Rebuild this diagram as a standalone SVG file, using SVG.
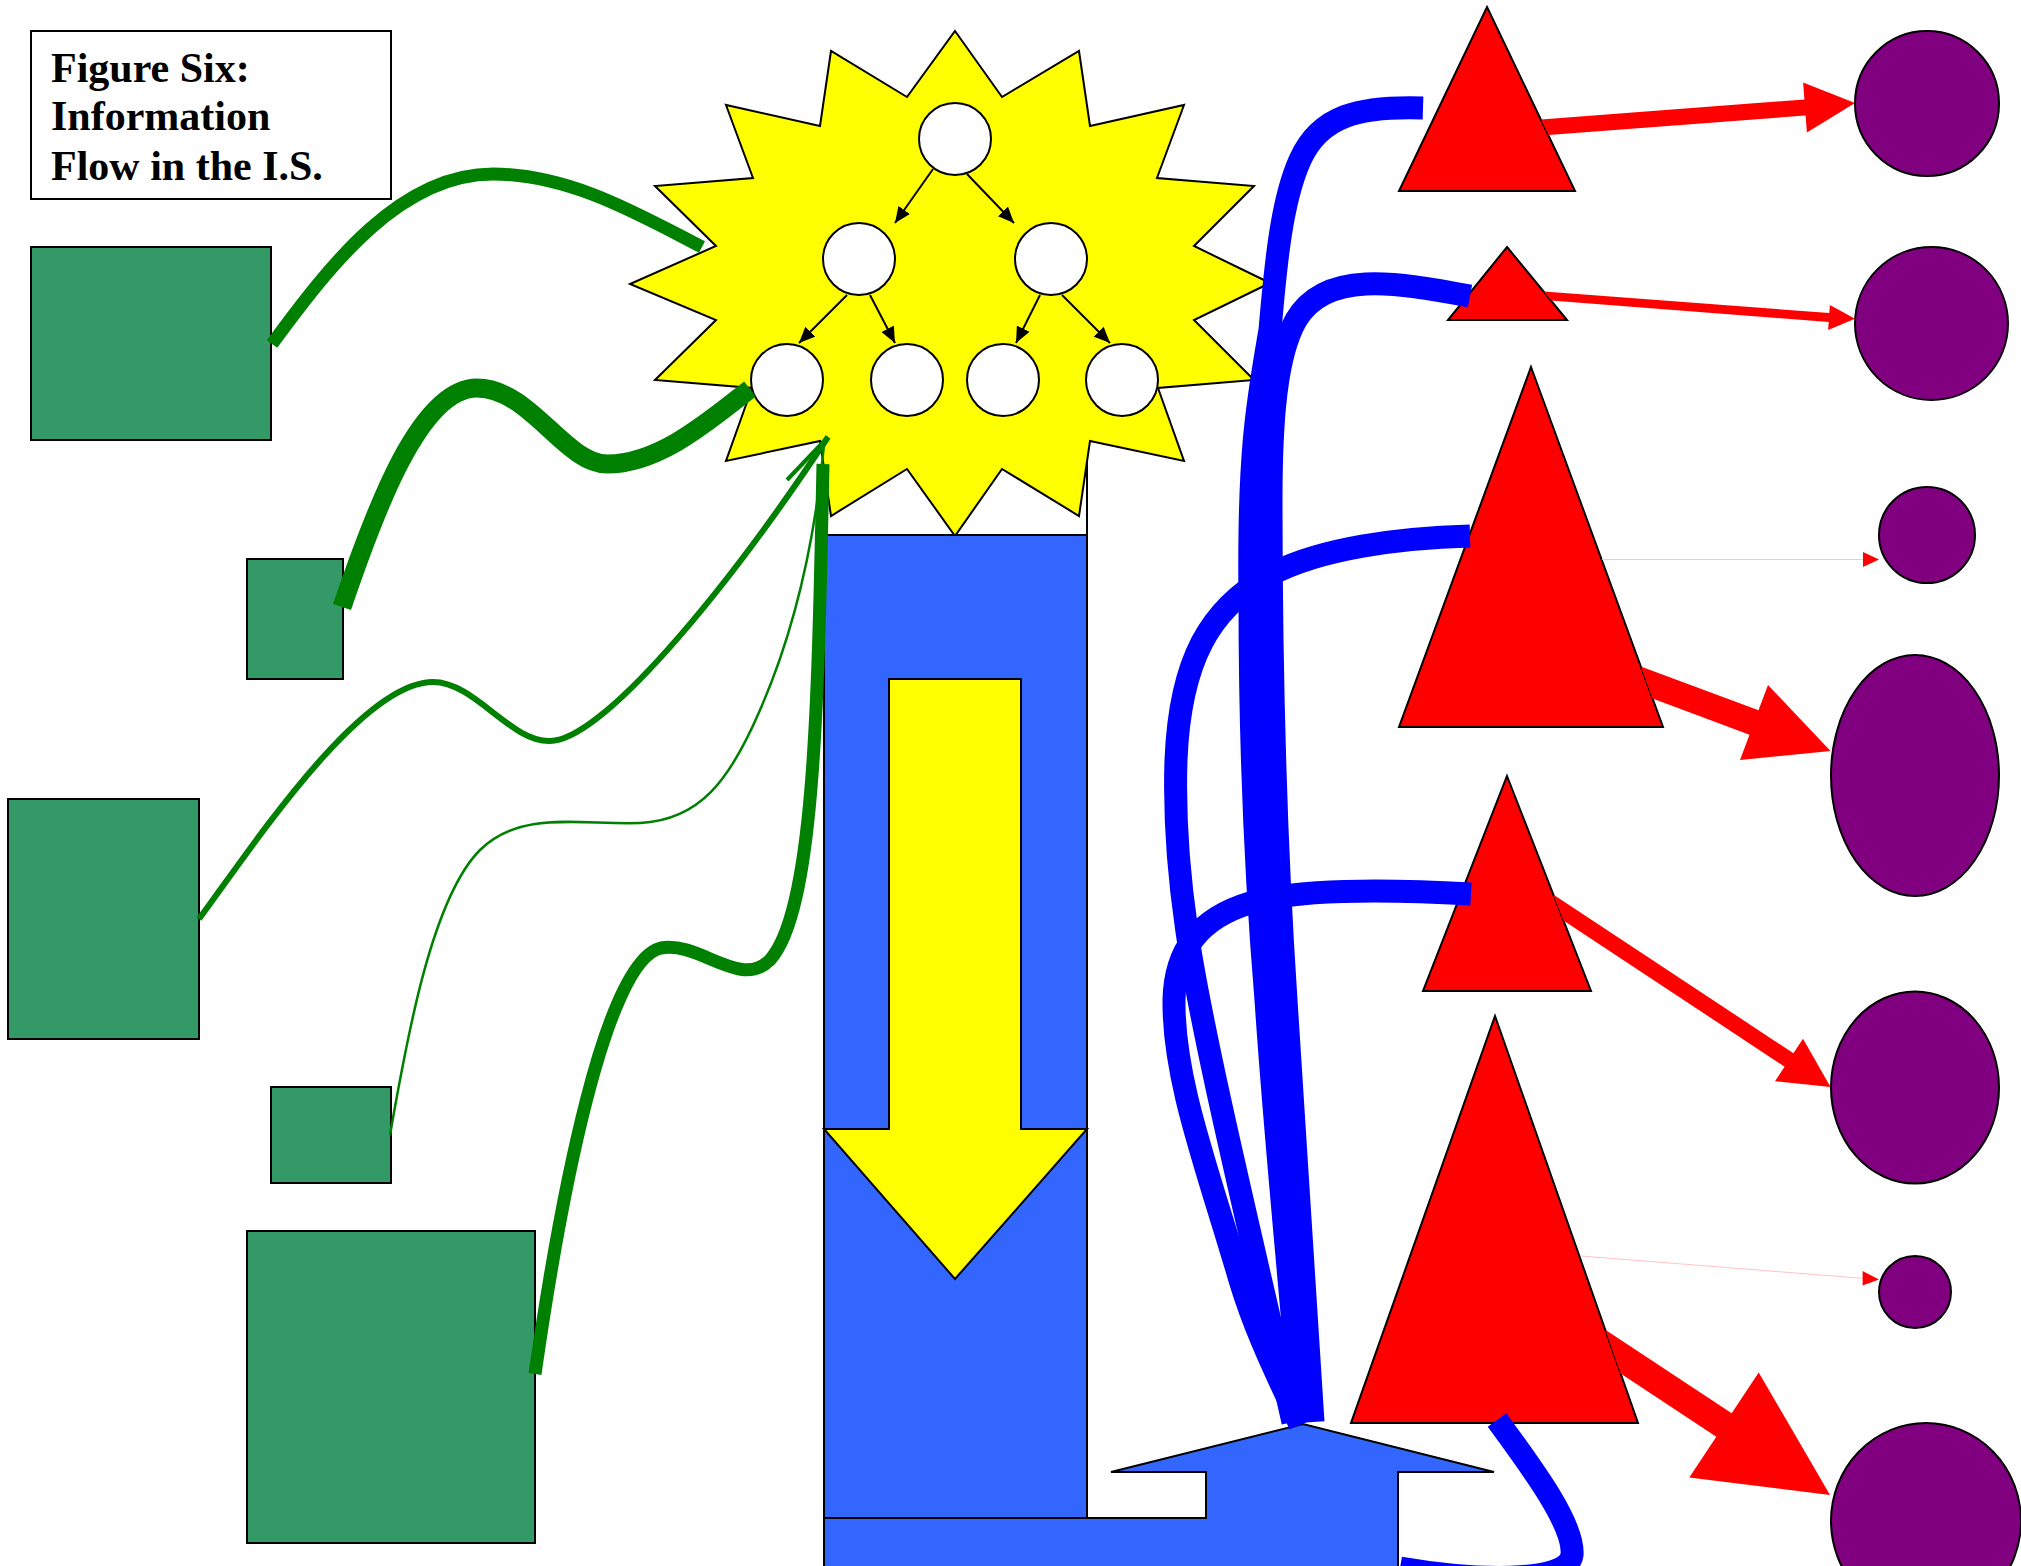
<svg xmlns="http://www.w3.org/2000/svg" width="2021" height="1566" viewBox="0 0 2021 1566">
<defs>
<style>
.box{fill:#fff;stroke:#000;stroke-width:2}
.grn{fill:#339966;stroke:#000;stroke-width:2}
.tri{fill:#ff0000;stroke:#000;stroke-width:2}
.pur{fill:#800080;stroke:#000;stroke-width:2}
.node{fill:#fff;stroke:#000;stroke-width:2}
.col{fill:#3366ff;stroke:#000;stroke-width:2}
.gc{fill:none;stroke:#008000}
.bc{fill:none;stroke:#0000ff;stroke-width:23}
.ra{fill:#ff0000;stroke:none}
.thin{fill:none;stroke:#ffc4c4;stroke-width:1}
.tree{stroke:#000;stroke-width:2;fill:none}
.title{font-family:"Liberation Serif","Times New Roman",serif;font-weight:bold;font-size:42px;fill:#000}
</style>
<marker id="ah" markerUnits="userSpaceOnUse" markerWidth="16" markerHeight="14" refX="16" refY="7" orient="auto">
<path d="M0,0 L16,7 L0,14 z" fill="#000"/>
</marker>
</defs>
<rect width="2021" height="1566" fill="#fff"/>

<g id="title">
<rect class="box" x="31" y="31" width="360" height="168"/>
<text class="title" x="51" y="82">Figure Six:</text>
<text class="title" x="51" y="130">Information</text>
<text class="title" x="51" y="180">Flow in the I.S.</text>
</g>

<g id="column-top">
<rect x="824" y="441" width="263" height="100" fill="#fff" stroke="#000" stroke-width="2"/>
</g>

<g id="star">
<polygon fill="#ffff00" stroke="#000" stroke-width="2" points="955,31 1002,97 1079,51 1090,126 1184,105 1157,178 1254,186 1194,246 1270,283 1194,320 1254,380 1158,388 1184,461 1090,441 1079,516 1002,469 955,536 907,469 831,516 820,441 726,461 752,388 655,380 716,320 630,284 716,246 655,186 753,178 726,105 820,126 831,51 907,97"/>
</g>
<g id="tree-root"><circle class="node" cx="955" cy="139" r="36"/></g>
<g id="tree-l"><circle class="node" cx="859" cy="259" r="36"/></g>
<g id="tree-r"><circle class="node" cx="1051" cy="259" r="36"/></g>
<g id="tree-ll"><circle class="node" cx="787" cy="380" r="36"/></g>
<g id="tree-lr"><circle class="node" cx="907" cy="380" r="36"/></g>
<g id="tree-rl"><circle class="node" cx="1003" cy="380" r="36"/></g>
<g id="tree-rr"><circle class="node" cx="1122" cy="380" r="36"/></g>

<g id="column">
<rect class="col" x="824" y="535" width="263" height="983"/>
</g>
<g id="bent-arrow">
<polygon class="col" points="824,1518 1206,1518 1206,1472 1111,1472 1303,1424 1494,1472 1398,1472 1398,1575 824,1575"/>
</g>
<g id="down-arrow">
<polygon fill="#ffff00" stroke="#000" stroke-width="2" points="889,679 1021,679 1021,1129 1087,1129 955,1279 824,1129 889,1129"/>
</g>

<g id="src1"><rect class="grn" x="31" y="247" width="240" height="193"/></g>
<g id="src2"><rect class="grn" x="247" y="559" width="96" height="120"/></g>
<g id="src3"><rect class="grn" x="8" y="799" width="191" height="240"/></g>
<g id="src4"><rect class="grn" x="271" y="1087" width="120" height="96"/></g>
<g id="src5"><rect class="grn" x="247" y="1231" width="288" height="312"/></g>

<g id="tri1"><polygon class="tri" points="1487,7 1575,191 1399,191"/></g>
<g id="tri2"><polygon class="tri" points="1507,247 1567,320 1448,320"/></g>
<g id="tri3"><polygon class="tri" points="1531,367 1663,727 1399,727"/></g>
<g id="tri4"><polygon class="tri" points="1507,776 1591,991 1423,991"/></g>
<g id="tri5"><polygon class="tri" points="1495,1016 1638,1423 1351,1423"/></g>

<g id="out1"><ellipse class="pur" cx="1927" cy="103.5" rx="72" ry="72.5"/></g>
<g id="out2"><circle class="pur" cx="1931.5" cy="323.5" r="76.5"/></g>
<g id="out3"><circle class="pur" cx="1927" cy="535" r="48"/></g>
<g id="out4"><ellipse class="pur" cx="1915" cy="775.5" rx="84" ry="120.5"/></g>
<g id="out5"><ellipse class="pur" cx="1915" cy="1087.5" rx="84" ry="96"/></g>
<g id="out6"><circle class="pur" cx="1915" cy="1292" r="36"/></g>
<g id="out7"><ellipse class="pur" cx="1926" cy="1521" rx="95" ry="98"/></g>

<g id="connectors">
<g id="tree-edges">
<line class="tree" x1="933" y1="169" x2="895" y2="223" marker-end="url(#ah)"/>
<line class="tree" x1="967" y1="174" x2="1014" y2="223" marker-end="url(#ah)"/>
<line class="tree" x1="847" y1="295" x2="799" y2="343" marker-end="url(#ah)"/>
<line class="tree" x1="870" y1="295" x2="895" y2="343" marker-end="url(#ah)"/>
<line class="tree" x1="1040" y1="295" x2="1016" y2="343" marker-end="url(#ah)"/>
<line class="tree" x1="1062" y1="295" x2="1110" y2="343" marker-end="url(#ah)"/>
</g>
<g id="green-flows">
<path class="gc" stroke-width="13" d="M272,344 C330,265 400,174 493,174 C570,174 640,215 702,247"/>
<path class="gc" stroke-width="19" d="M342,607 C375,510 420,388 477,388 C530,388 565,464 607,464 C660,464 710,420 750,389"/>
<path class="gc" stroke-width="6" d="M199,919 C250,850 360,682 433,682 C475,682 510,742 550,741 C600,741 720,600 828,437"/>
<line class="gc" stroke-width="4" x1="787" y1="480" x2="828" y2="437"/>
<path class="gc" stroke-width="2.5" d="M390,1135 C405,1050 430,900 480,850 C520,810 580,825 640,823 C700,820 730,780 760,710 C795,630 815,540 824,445"/>
<path class="gc" stroke-width="13" d="M535,1374 C560,1200 605,960 661,948 C700,941 740,990 770,960 C815,910 818,700 823,464"/>
</g>
<g id="red-flows">
<polygon class="ra" points="1541,119.5 1804.4,99.5 1803.1,82.6 1855,103 1806.9,132.4 1805.6,115.5 1548.5,135"/>
<polygon class="ra" points="1544,291.5 1829.3,313 1829.9,305 1855,318.8 1828.1,330 1828.7,322 1551,300.5"/>
<line class="thin" x1="1602" y1="559.5" x2="1866" y2="559.5"/>
<polygon class="ra" points="1879,559.5 1863,552 1863,567"/>
<polygon class="ra" points="1640.8,666.5 1758.5,710.3 1768,685 1830.5,751 1740,760 1749.5,734.7 1652.5,698.6"/>
<polygon class="ra" points="1553.2,894.4 1793.4,1053.3 1803,1038.8 1830.5,1087 1775,1081.2 1784.6,1066.7 1563.4,920.4"/>
<line class="thin" x1="1581" y1="1256" x2="1865" y2="1278.5"/>
<polygon class="ra" points="1879,1279.4 1862.6,1271 1862.6,1285.6"/>
<polygon class="ra" points="1605.3,1329.8 1731.7,1413.3 1758.7,1372.4 1830,1495 1689.3,1477.6 1716.3,1436.7 1620.6,1373.5"/>
</g>
<g id="blue-flows">
<path class="bc" d="M1423,108 C1360,106 1320,115 1300,160 C1282,200 1276,260 1270,330 C1258,400 1248,450 1250,600 C1250,760 1256,880 1266,1000 C1276,1150 1292,1300 1301,1422"/>
<path class="bc" d="M1470,296 C1395,282 1325,270 1296,320 C1276,355 1271,420 1271,500 C1271,650 1274,820 1286,1000 C1296,1160 1306,1300 1313,1422"/>
<path class="bc" d="M1470,536 C1400,538 1320,548 1270,575 C1210,608 1180,660 1176,760 C1172,880 1196,990 1216,1083 C1238,1185 1268,1310 1293,1422"/>
<path class="bc" d="M1471,894 C1400,890 1300,888 1250,903 C1200,918 1175,950 1174,1000 C1173,1080 1208,1170 1240,1280 C1258,1340 1285,1390 1300,1425"/>
<path class="bc" d="M1497,1420 C1530,1465 1575,1525 1572,1555 C1568,1585 1470,1580 1400,1568"/>
</g>
</g>
</svg>
